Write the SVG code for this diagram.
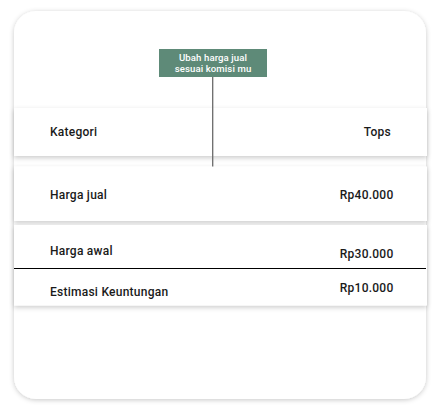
<svg xmlns="http://www.w3.org/2000/svg" width="441" height="410" viewBox="0 0 441 410">
<defs>
<filter id="cardShadow" x="-10%" y="-10%" width="120%" height="120%">
<feDropShadow dx="0" dy="1" stdDeviation="2.5" flood-color="#000" flood-opacity="0.22"/>
</filter>
<filter id="rowShadow" x="-5%" y="-30%" width="110%" height="160%">
<feDropShadow dx="0" dy="2" stdDeviation="2.5" flood-color="#000" flood-opacity="0.2"/>
</filter>
<style>
.row{fill:#fff;filter:url(#rowShadow);}
.lbl{font-family:Roboto,"Liberation Sans",sans-serif;font-weight:500;font-size:12px;fill:#1a1a1a;letter-spacing:0.25px;}
.val{text-anchor:end;}
.note{font-family:Roboto,"Liberation Sans",sans-serif;font-weight:500;font-size:9.6px;fill:#fff;text-anchor:middle;letter-spacing:0.1px;}
</style>
</defs>
<rect width="441" height="410" fill="#fff"/>
<g id="card">
<rect x="14" y="11" width="412" height="388" rx="22" fill="#fff" filter="url(#cardShadow)"/>
</g>
<g id="row-header">
<rect class="row" x="14" y="108" width="413" height="48"/>
<text class="lbl" x="50" y="136">Kategori</text>
<text class="lbl val" x="391" y="136">Tops</text>
</g>
<g id="row-harga-jual">
<rect class="row" x="14" y="166.5" width="413" height="54.5"/>
<text class="lbl" x="50" y="198.5">Harga jual</text>
<text class="lbl val" x="393.5" y="198.5">Rp40.000</text>
</g>
<g id="row-summary">
<rect class="row" x="14" y="225" width="413" height="80.5"/>
<text class="lbl" x="50" y="255">Harga awal</text>
<text class="lbl val" x="393.5" y="258">Rp30.000</text>
<text class="lbl" x="50" y="295.5">Estimasi Keuntungan</text>
<text class="lbl val" x="393.5" y="292">Rp10.000</text>
</g>
<g id="connectors">
<line x1="212.7" y1="77" x2="212.7" y2="166.5" stroke="#6b6b6b" stroke-width="1.3"/>
<line x1="14" y1="268.5" x2="426" y2="268.5" stroke="#000" stroke-width="1.2"/>
</g>
<g id="note">
<rect x="159" y="49" width="108" height="28" fill="#5e8a78"/>
<text class="note" x="213" y="60.5">Ubah harga jual</text>
<text class="note" x="213" y="72">sesuai komisi mu</text>
</g>
</svg>
